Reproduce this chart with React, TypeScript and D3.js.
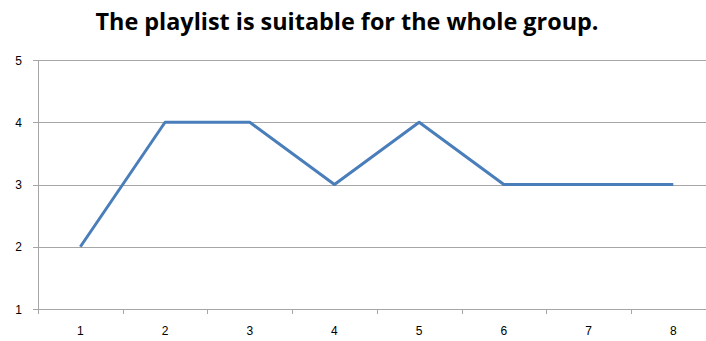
import React from "react";
import * as d3 from "d3";

const categories = ["1", "2", "3", "4", "5", "6", "7", "8"];
const values = [2, 4, 4, 3, 4, 3, 3, 3];
const yTicks = [1, 2, 3, 4, 5];
const title = "The playlist is suitable for the whole group.";

const W = 706;
const H = 341;
const left = 38;
const top = 60;
const bottom = 309;
const band = 84.7;

export default function App() {
  const x = d3
    .scaleBand<string>()
    .domain(categories)
    .range([left, left + band * categories.length])
    .paddingInner(0)
    .paddingOuter(0);
  const y = d3.scaleLinear().domain([1, 5]).range([bottom, top]);
  const cx = (c: string) => (x(c) as number) + x.bandwidth() / 2;

  const line = d3
    .line<number>()
    .x((_, i) => cx(categories[i]))
    .y((d) => y(d));

  const font = "'Liberation Sans', Arial, sans-serif";

  return (
    <svg
      width={W}
      height={H}
      style={{ position: "absolute", left: 0, top: 0, background: "#fff" }}
    >
      <text
        x={347}
        y={30}
        textAnchor="middle"
        fontFamily="'Open Sans', sans-serif"
        fontWeight="bold"
        fontSize={24}
        textLength={503}
        lengthAdjust="spacingAndGlyphs"
        fill="#000"
      >
        {title}
      </text>

      {/* horizontal gridlines */}
      {yTicks
        .filter((t) => t > 1)
        .map((t) => (
          <line
            key={"g" + t}
            x1={left}
            x2={W}
            y1={Math.round(y(t)) + 0.5}
            y2={Math.round(y(t)) + 0.5}
            stroke="#a6a6a6"
            strokeWidth={1}
          />
        ))}

      {/* y axis */}
      <line
        x1={left + 0.5}
        x2={left + 0.5}
        y1={top}
        y2={bottom + 5}
        stroke="#a6a6a6"
      />
      {yTicks.map((t) => (
        <g key={"y" + t}>
          <line
            x1={left - 5}
            x2={left}
            y1={Math.round(y(t)) + 0.5}
            y2={Math.round(y(t)) + 0.5}
            stroke="#a6a6a6"
          />
          <text
            x={22}
            y={y(t)}
            dy="0.38em"
            textAnchor="end"
            fontFamily={font}
            fontSize={12}
            fill="#000"
          >
            {t}
          </text>
        </g>
      ))}

      {/* x axis */}
      <line
        x1={left}
        x2={W}
        y1={Math.round(bottom) + 0.5}
        y2={Math.round(bottom) + 0.5}
        stroke="#a6a6a6"
      />
      {categories.slice(1).map((c) => (
        <line
          key={"xt" + c}
          x1={Math.round(x(c) as number) + 0.5}
          x2={Math.round(x(c) as number) + 0.5}
          y1={bottom}
          y2={bottom + 5}
          stroke="#a6a6a6"
        />
      ))}
      {categories.map((c) => (
        <text
          key={"xl" + c}
          x={cx(c)}
          y={335}
          textAnchor="middle"
          fontFamily={font}
          fontSize={12}
          fill="#000"
        >
          {c}
        </text>
      ))}

      <path
        d={line(values) || ""}
        fill="none"
        stroke="#4a7ebb"
        strokeWidth={3}
        strokeLinejoin="round"
      />
    </svg>
  );
}
